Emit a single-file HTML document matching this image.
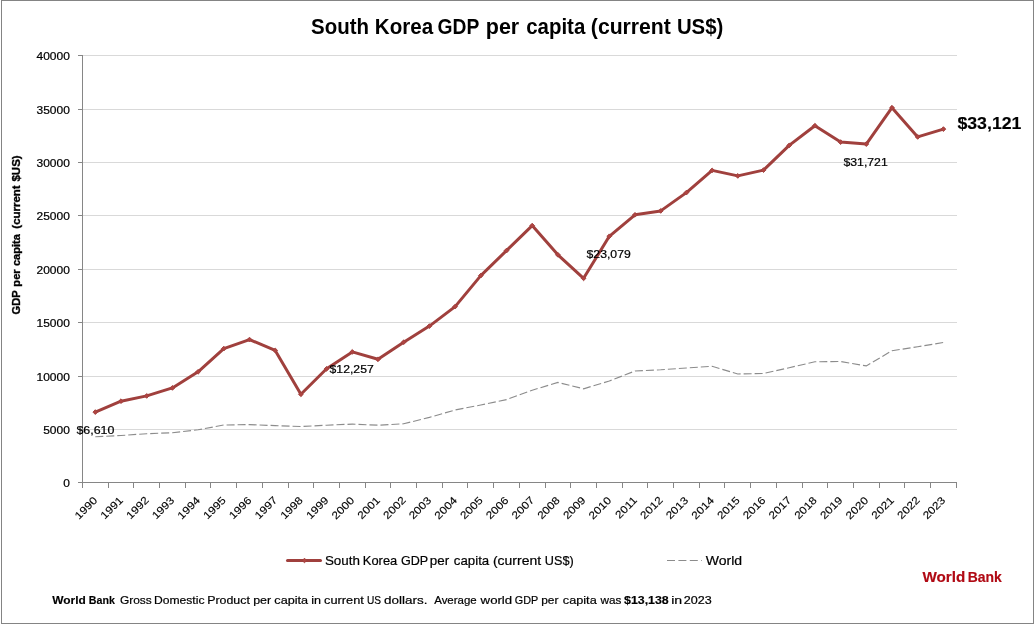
<!DOCTYPE html>
<html lang="en"><head><meta charset="utf-8"><title>South Korea GDP per capita (current US$)</title>
<style>html,body{margin:0;padding:0;background:#fff}body{width:1034px;height:624px;overflow:hidden}svg{display:block;font-family:"Liberation Sans",sans-serif}text{fill:#000;white-space:pre}.b{font-weight:bold}</style></head><body>
<svg width="1034" height="624" viewBox="0 0 1034 624">
<rect x="0" y="0" width="1034" height="624" fill="#fff"/>
<g fill="#848484" shape-rendering="crispEdges"><rect x="1" y="0" width="1033" height="1"/><rect x="1" y="623" width="1033" height="1"/><rect x="1" y="0" width="1" height="624"/><rect x="1033" y="0" width="1" height="624"/></g>
<g fill="#d9d9d9" shape-rendering="crispEdges"><rect x="83" y="429" width="874" height="1"/><rect x="83" y="376" width="874" height="1"/><rect x="83" y="322" width="874" height="1"/><rect x="83" y="269" width="874" height="1"/><rect x="83" y="215" width="874" height="1"/><rect x="83" y="162" width="874" height="1"/><rect x="83" y="109" width="874" height="1"/><rect x="83" y="55" width="874" height="1"/></g>
<g fill="#868686" shape-rendering="crispEdges"><rect x="82" y="55" width="1" height="433"/><rect x="78" y="482" width="879" height="1"/><rect x="78" y="429" width="4" height="1"/><rect x="78" y="376" width="4" height="1"/><rect x="78" y="322" width="4" height="1"/><rect x="78" y="269" width="4" height="1"/><rect x="78" y="215" width="4" height="1"/><rect x="78" y="162" width="4" height="1"/><rect x="78" y="109" width="4" height="1"/><rect x="78" y="55" width="4" height="1"/><rect x="108" y="482" width="1" height="6"/><rect x="133" y="482" width="1" height="6"/><rect x="159" y="482" width="1" height="6"/><rect x="185" y="482" width="1" height="6"/><rect x="210" y="482" width="1" height="6"/><rect x="236" y="482" width="1" height="6"/><rect x="262" y="482" width="1" height="6"/><rect x="288" y="482" width="1" height="6"/><rect x="313" y="482" width="1" height="6"/><rect x="339" y="482" width="1" height="6"/><rect x="365" y="482" width="1" height="6"/><rect x="390" y="482" width="1" height="6"/><rect x="416" y="482" width="1" height="6"/><rect x="442" y="482" width="1" height="6"/><rect x="467" y="482" width="1" height="6"/><rect x="493" y="482" width="1" height="6"/><rect x="519" y="482" width="1" height="6"/><rect x="545" y="482" width="1" height="6"/><rect x="570" y="482" width="1" height="6"/><rect x="596" y="482" width="1" height="6"/><rect x="622" y="482" width="1" height="6"/><rect x="647" y="482" width="1" height="6"/><rect x="673" y="482" width="1" height="6"/><rect x="699" y="482" width="1" height="6"/><rect x="724" y="482" width="1" height="6"/><rect x="750" y="482" width="1" height="6"/><rect x="776" y="482" width="1" height="6"/><rect x="802" y="482" width="1" height="6"/><rect x="827" y="482" width="1" height="6"/><rect x="853" y="482" width="1" height="6"/><rect x="879" y="482" width="1" height="6"/><rect x="904" y="482" width="1" height="6"/><rect x="930" y="482" width="1" height="6"/><rect x="956" y="482" width="1" height="6"/></g>
<polyline points="95.3,436.8 121.0,435.5 146.7,433.7 172.4,432.7 198.1,429.8 223.8,425.0 249.5,424.6 275.2,425.6 300.9,426.5 326.6,425.2 352.3,424.1 378.0,425.2 403.7,423.8 429.4,417.4 455.1,410.0 480.8,405.0 506.5,399.6 532.2,390.2 557.9,382.4 583.6,388.8 609.3,381.0 635.0,371.0 660.7,369.8 686.4,368.0 712.1,366.3 737.8,374.0 763.5,373.5 789.2,367.7 814.9,361.8 840.6,361.5 866.3,365.9 892.0,350.7 917.7,346.8 943.4,342.5" fill="none" stroke="#8c8c8c" stroke-width="1.15" stroke-dasharray="8 3"/>
<polyline points="95.3,412.1 121.0,401.2 146.7,395.9 172.4,387.9 198.1,371.8 223.8,348.6 249.5,339.6 275.2,350.4 300.9,394.3 326.6,368.8 352.3,351.9 378.0,359.3 403.7,342.2 429.4,326.1 455.1,306.6 480.8,275.6 506.5,250.6 532.2,225.6 557.9,254.8 583.6,278.3 609.3,236.3 635.0,214.8 660.7,210.9 686.4,192.6 712.1,170.4 737.8,175.9 763.5,170.1 789.2,145.4 814.9,125.7 840.6,142.1 866.3,144.1 892.0,107.7 917.7,136.9 943.4,129.1" fill="none" stroke="#a0403d" stroke-width="3" stroke-linejoin="round" stroke-linecap="round"/>
<g fill="#b04542" stroke="#a0403d" stroke-width="0.9" stroke-linejoin="round"><path d="M95.3 409.7L97.7 412.1L95.3 414.5L92.9 412.1Z"/><path d="M121.0 398.8L123.4 401.2L121.0 403.6L118.6 401.2Z"/><path d="M146.7 393.5L149.1 395.9L146.7 398.3L144.3 395.9Z"/><path d="M172.4 385.5L174.8 387.9L172.4 390.3L170.0 387.9Z"/><path d="M198.1 369.4L200.5 371.8L198.1 374.2L195.7 371.8Z"/><path d="M223.8 346.2L226.2 348.6L223.8 351.0L221.4 348.6Z"/><path d="M249.5 337.2L251.9 339.6L249.5 342.0L247.1 339.6Z"/><path d="M275.2 348.0L277.6 350.4L275.2 352.8L272.8 350.4Z"/><path d="M300.9 391.9L303.3 394.3L300.9 396.7L298.5 394.3Z"/><path d="M326.6 366.4L329.0 368.8L326.6 371.2L324.2 368.8Z"/><path d="M352.3 349.5L354.7 351.9L352.3 354.3L349.9 351.9Z"/><path d="M378.0 356.9L380.4 359.3L378.0 361.7L375.6 359.3Z"/><path d="M403.7 339.8L406.1 342.2L403.7 344.6L401.3 342.2Z"/><path d="M429.4 323.7L431.8 326.1L429.4 328.5L427.0 326.1Z"/><path d="M455.1 304.2L457.5 306.6L455.1 309.0L452.7 306.6Z"/><path d="M480.8 273.2L483.2 275.6L480.8 278.0L478.4 275.6Z"/><path d="M506.5 248.2L508.9 250.6L506.5 253.0L504.1 250.6Z"/><path d="M532.2 223.2L534.6 225.6L532.2 228.0L529.8 225.6Z"/><path d="M557.9 252.4L560.3 254.8L557.9 257.2L555.5 254.8Z"/><path d="M583.6 275.9L586.0 278.3L583.6 280.7L581.2 278.3Z"/><path d="M609.3 233.9L611.7 236.3L609.3 238.7L606.9 236.3Z"/><path d="M635.0 212.4L637.4 214.8L635.0 217.2L632.6 214.8Z"/><path d="M660.7 208.5L663.1 210.9L660.7 213.3L658.3 210.9Z"/><path d="M686.4 190.2L688.8 192.6L686.4 195.0L684.0 192.6Z"/><path d="M712.1 168.0L714.5 170.4L712.1 172.8L709.7 170.4Z"/><path d="M737.8 173.5L740.2 175.9L737.8 178.3L735.4 175.9Z"/><path d="M763.5 167.7L765.9 170.1L763.5 172.5L761.1 170.1Z"/><path d="M789.2 143.0L791.6 145.4L789.2 147.8L786.8 145.4Z"/><path d="M814.9 123.3L817.3 125.7L814.9 128.1L812.5 125.7Z"/><path d="M840.6 139.7L843.0 142.1L840.6 144.5L838.2 142.1Z"/><path d="M866.3 141.7L868.7 144.1L866.3 146.5L863.9 144.1Z"/><path d="M892.0 105.3L894.4 107.7L892.0 110.1L889.6 107.7Z"/><path d="M917.7 134.5L920.1 136.9L917.7 139.3L915.3 136.9Z"/><path d="M943.4 126.7L945.8 129.1L943.4 131.5L941.0 129.1Z"/></g>
<text class="b" y="34" font-size="21.2" stroke="#000" stroke-width="0"><tspan x="311.09" textLength="57.89" lengthAdjust="spacingAndGlyphs">South</tspan> <tspan x="374.86" textLength="58.32" lengthAdjust="spacingAndGlyphs">Korea</tspan> <tspan x="437.54" textLength="41.38" lengthAdjust="spacingAndGlyphs">GDP</tspan> <tspan x="485.80" textLength="33.44" lengthAdjust="spacingAndGlyphs">per</tspan> <tspan x="526.18" textLength="59.12" lengthAdjust="spacingAndGlyphs">capita</tspan> <tspan x="590.84" textLength="80.04" lengthAdjust="spacingAndGlyphs">(current</tspan> <tspan x="676.88" textLength="46.41" lengthAdjust="spacingAndGlyphs">US$)</tspan></text>
<text font-size="10.6" stroke="#000" stroke-width="0.2"><tspan x="63.17" y="486.8" textLength="6.66" lengthAdjust="spacingAndGlyphs">0</tspan><tspan x="43.16" y="433.8" textLength="26.66" lengthAdjust="spacingAndGlyphs">5000</tspan><tspan x="36.51" y="380.8" textLength="33.32" lengthAdjust="spacingAndGlyphs">10000</tspan><tspan x="36.51" y="326.8" textLength="33.32" lengthAdjust="spacingAndGlyphs">15000</tspan><tspan x="36.51" y="273.8" textLength="33.32" lengthAdjust="spacingAndGlyphs">20000</tspan><tspan x="36.51" y="219.8" textLength="33.32" lengthAdjust="spacingAndGlyphs">25000</tspan><tspan x="36.51" y="166.8" textLength="33.32" lengthAdjust="spacingAndGlyphs">30000</tspan><tspan x="36.51" y="113.8" textLength="33.32" lengthAdjust="spacingAndGlyphs">35000</tspan><tspan x="36.51" y="59.8" textLength="33.32" lengthAdjust="spacingAndGlyphs">40000</tspan></text>
<g font-size="10.6" stroke="#000" stroke-width="0.12"><text transform="translate(97.6 501.3) rotate(-45)" x="-26.30" y="0" textLength="26.72" lengthAdjust="spacingAndGlyphs">1990</text><text transform="translate(123.3 501.3) rotate(-45)" x="-26.18" y="0" textLength="26.72" lengthAdjust="spacingAndGlyphs">1991</text><text transform="translate(149.0 501.3) rotate(-45)" x="-26.12" y="0" textLength="26.72" lengthAdjust="spacingAndGlyphs">1992</text><text transform="translate(174.7 501.3) rotate(-45)" x="-26.24" y="0" textLength="26.72" lengthAdjust="spacingAndGlyphs">1993</text><text transform="translate(200.4 501.3) rotate(-45)" x="-26.36" y="0" textLength="26.72" lengthAdjust="spacingAndGlyphs">1994</text><text transform="translate(226.1 501.3) rotate(-45)" x="-26.24" y="0" textLength="26.72" lengthAdjust="spacingAndGlyphs">1995</text><text transform="translate(251.8 501.3) rotate(-45)" x="-26.24" y="0" textLength="26.72" lengthAdjust="spacingAndGlyphs">1996</text><text transform="translate(277.5 501.3) rotate(-45)" x="-26.12" y="0" textLength="26.72" lengthAdjust="spacingAndGlyphs">1997</text><text transform="translate(303.2 501.3) rotate(-45)" x="-26.24" y="0" textLength="26.72" lengthAdjust="spacingAndGlyphs">1998</text><text transform="translate(328.9 501.3) rotate(-45)" x="-26.18" y="0" textLength="26.72" lengthAdjust="spacingAndGlyphs">1999</text><text transform="translate(354.6 501.3) rotate(-45)" x="-26.30" y="0" textLength="26.72" lengthAdjust="spacingAndGlyphs">2000</text><text transform="translate(380.3 501.3) rotate(-45)" x="-26.18" y="0" textLength="26.72" lengthAdjust="spacingAndGlyphs">2001</text><text transform="translate(406.0 501.3) rotate(-45)" x="-26.12" y="0" textLength="26.72" lengthAdjust="spacingAndGlyphs">2002</text><text transform="translate(431.7 501.3) rotate(-45)" x="-26.24" y="0" textLength="26.72" lengthAdjust="spacingAndGlyphs">2003</text><text transform="translate(457.4 501.3) rotate(-45)" x="-26.36" y="0" textLength="26.72" lengthAdjust="spacingAndGlyphs">2004</text><text transform="translate(483.1 501.3) rotate(-45)" x="-26.24" y="0" textLength="26.72" lengthAdjust="spacingAndGlyphs">2005</text><text transform="translate(508.8 501.3) rotate(-45)" x="-26.24" y="0" textLength="26.72" lengthAdjust="spacingAndGlyphs">2006</text><text transform="translate(534.5 501.3) rotate(-45)" x="-26.12" y="0" textLength="26.72" lengthAdjust="spacingAndGlyphs">2007</text><text transform="translate(560.2 501.3) rotate(-45)" x="-26.24" y="0" textLength="26.72" lengthAdjust="spacingAndGlyphs">2008</text><text transform="translate(585.9 501.3) rotate(-45)" x="-26.18" y="0" textLength="26.72" lengthAdjust="spacingAndGlyphs">2009</text><text transform="translate(611.6 501.3) rotate(-45)" x="-26.30" y="0" textLength="26.72" lengthAdjust="spacingAndGlyphs">2010</text><text transform="translate(637.3 501.3) rotate(-45)" x="-25.28" y="0" textLength="25.83" lengthAdjust="spacingAndGlyphs">2011</text><text transform="translate(663.0 501.3) rotate(-45)" x="-26.12" y="0" textLength="26.72" lengthAdjust="spacingAndGlyphs">2012</text><text transform="translate(688.7 501.3) rotate(-45)" x="-26.24" y="0" textLength="26.72" lengthAdjust="spacingAndGlyphs">2013</text><text transform="translate(714.4 501.3) rotate(-45)" x="-26.36" y="0" textLength="26.72" lengthAdjust="spacingAndGlyphs">2014</text><text transform="translate(740.1 501.3) rotate(-45)" x="-26.24" y="0" textLength="26.72" lengthAdjust="spacingAndGlyphs">2015</text><text transform="translate(765.8 501.3) rotate(-45)" x="-26.24" y="0" textLength="26.72" lengthAdjust="spacingAndGlyphs">2016</text><text transform="translate(791.5 501.3) rotate(-45)" x="-26.12" y="0" textLength="26.72" lengthAdjust="spacingAndGlyphs">2017</text><text transform="translate(817.2 501.3) rotate(-45)" x="-26.24" y="0" textLength="26.72" lengthAdjust="spacingAndGlyphs">2018</text><text transform="translate(842.9 501.3) rotate(-45)" x="-26.18" y="0" textLength="26.72" lengthAdjust="spacingAndGlyphs">2019</text><text transform="translate(868.6 501.3) rotate(-45)" x="-26.30" y="0" textLength="26.72" lengthAdjust="spacingAndGlyphs">2020</text><text transform="translate(894.3 501.3) rotate(-45)" x="-26.18" y="0" textLength="26.72" lengthAdjust="spacingAndGlyphs">2021</text><text transform="translate(920.0 501.3) rotate(-45)" x="-26.12" y="0" textLength="26.72" lengthAdjust="spacingAndGlyphs">2022</text><text transform="translate(945.7 501.3) rotate(-45)" x="-26.24" y="0" textLength="26.72" lengthAdjust="spacingAndGlyphs">2023</text></g>
<text class="b" transform="translate(20.0 314.1) rotate(-90)" y="0" font-size="11.5" stroke="#000" stroke-width="0.35"><tspan x="-0.44" textLength="24.00" lengthAdjust="spacingAndGlyphs">GDP</tspan> <tspan x="27.48" textLength="17.30" lengthAdjust="spacingAndGlyphs">per</tspan> <tspan x="48.06" textLength="31.83" lengthAdjust="spacingAndGlyphs">capita</tspan> <tspan x="85.43" textLength="43.33" lengthAdjust="spacingAndGlyphs">(current</tspan> <tspan x="132.53" textLength="26.23" lengthAdjust="spacingAndGlyphs">$US)</tspan></text>
<text y="433.8" font-size="10.6" stroke="#000" stroke-width="0.2"><tspan x="76.48" textLength="37.94" lengthAdjust="spacingAndGlyphs">$6,610</tspan></text>
<text y="372.6" font-size="10.6" stroke="#000" stroke-width="0.2"><tspan x="329.58" textLength="44.13" lengthAdjust="spacingAndGlyphs">$12,257</tspan></text>
<text y="257.7" font-size="10.6" stroke="#000" stroke-width="0.2"><tspan x="586.58" textLength="44.17" lengthAdjust="spacingAndGlyphs">$23,079</tspan></text>
<text y="166" font-size="10.6" stroke="#000" stroke-width="0.2"><tspan x="843.48" textLength="44.27" lengthAdjust="spacingAndGlyphs">$31,721</tspan></text>
<text class="b" y="129.1" font-size="17.3" stroke="#000" stroke-width="0.15"><tspan x="957.43" textLength="64.01" lengthAdjust="spacingAndGlyphs">$33,121</tspan></text>
<line x1="287.5" y1="560.5" x2="320.5" y2="560.5" stroke="#a0403d" stroke-width="3" stroke-linecap="round"/><g fill="#b04542" stroke="#a0403d" stroke-width="0.9" stroke-linejoin="round"><path d="M304.5 558.2L306.8 560.5L304.5 562.8L302.2 560.5Z"/></g>
<text y="565.1" font-size="12.7" stroke="#000" stroke-width="0.2"><tspan x="324.90" textLength="35.02" lengthAdjust="spacingAndGlyphs">South</tspan> <tspan x="362.87" textLength="34.38" lengthAdjust="spacingAndGlyphs">Korea</tspan> <tspan x="400.98" textLength="26.97" lengthAdjust="spacingAndGlyphs">GDP</tspan> <tspan x="429.83" textLength="19.34" lengthAdjust="spacingAndGlyphs">per</tspan> <tspan x="453.87" textLength="35.38" lengthAdjust="spacingAndGlyphs">capita</tspan> <tspan x="492.96" textLength="48.11" lengthAdjust="spacingAndGlyphs">(current</tspan> <tspan x="544.85" textLength="28.85" lengthAdjust="spacingAndGlyphs">US$)</tspan></text>
<line x1="667" y1="560.5" x2="702" y2="560.5" stroke="#8c8c8c" stroke-width="1.15" stroke-dasharray="8 3.4"/>
<text y="565.1" font-size="12.7" stroke="#000" stroke-width="0.2"><tspan x="705.73" textLength="36.33" lengthAdjust="spacingAndGlyphs">World</tspan></text>
<text class="b" y="582.1" font-size="14" style="fill:#b00a14" stroke="#b00a14" stroke-width="0.15"><tspan x="922.50" textLength="42.78" lengthAdjust="spacingAndGlyphs">World</tspan> <tspan x="967.69" textLength="34.11" lengthAdjust="spacingAndGlyphs">Bank</tspan></text>
<text class="b" y="603.9" font-size="11.4" stroke="#000" stroke-width="0.15"><tspan x="52.30" textLength="33.57" lengthAdjust="spacingAndGlyphs">World</tspan> <tspan x="88.81" textLength="26.00" lengthAdjust="spacingAndGlyphs">Bank</tspan></text>
<text y="603.9" font-size="11.4" stroke="#000" stroke-width="0.2"><tspan x="119.90" textLength="31.84" lengthAdjust="spacingAndGlyphs">Gross</tspan> <tspan x="153.93" textLength="50.54" lengthAdjust="spacingAndGlyphs">Domestic</tspan> <tspan x="207.21" textLength="42.67" lengthAdjust="spacingAndGlyphs">Product</tspan> <tspan x="253.19" textLength="17.96" lengthAdjust="spacingAndGlyphs">per</tspan> <tspan x="274.39" textLength="33.75" lengthAdjust="spacingAndGlyphs">capita</tspan> <tspan x="311.28" textLength="9.77" lengthAdjust="spacingAndGlyphs">in</tspan> <tspan x="324.09" textLength="39.70" lengthAdjust="spacingAndGlyphs">current</tspan> <tspan x="367.04" textLength="14.06" lengthAdjust="spacingAndGlyphs">US</tspan> <tspan x="384.06" textLength="43.40" lengthAdjust="spacingAndGlyphs">dollars.</tspan> <tspan x="434.20" textLength="42.54" lengthAdjust="spacingAndGlyphs">Average</tspan> <tspan x="480.60" textLength="31.56" lengthAdjust="spacingAndGlyphs">world</tspan> <tspan x="514.86" textLength="23.19" lengthAdjust="spacingAndGlyphs">GDP</tspan> <tspan x="541.23" textLength="17.22" lengthAdjust="spacingAndGlyphs">per</tspan> <tspan x="562.79" textLength="33.95" lengthAdjust="spacingAndGlyphs">capita</tspan> <tspan x="600.60" textLength="20.89" lengthAdjust="spacingAndGlyphs">was</tspan></text>
<text class="b" y="603.9" font-size="10.6" stroke="#000" stroke-width="0.15"><tspan x="624.01" textLength="44.76" lengthAdjust="spacingAndGlyphs">$13,138</tspan></text>
<text y="603.9" font-size="11.4" stroke="#000" stroke-width="0.2"><tspan x="671.18" textLength="10.98" lengthAdjust="spacingAndGlyphs">in</tspan></text>
<text y="603.9" font-size="10.6" stroke="#000" stroke-width="0.2"><tspan x="683.77" textLength="27.93" lengthAdjust="spacingAndGlyphs">2023</tspan></text>
</svg></body></html>
